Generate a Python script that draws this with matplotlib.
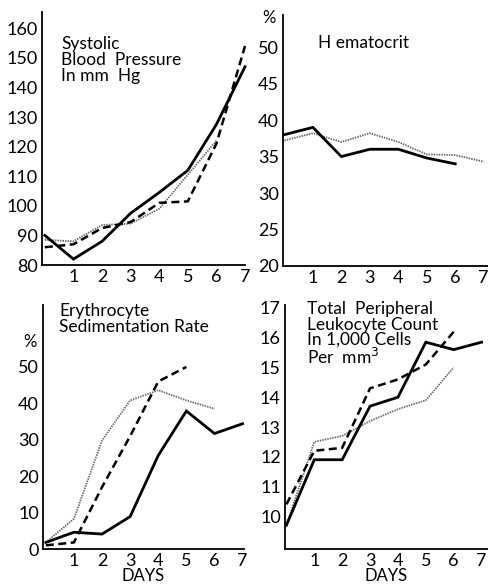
import matplotlib
matplotlib.use('Agg')
import matplotlib.pyplot as plt

plt.rcParams['font.family'] = ['Lato', 'DejaVu Sans']

days = [0, 1, 2, 3, 4, 5, 6, 7]

# systolic blood pressure, mm Hg
bp_solid = [90, 82, 88, 97.5, 104.5, 112, 127.5, 147]
bp_dotted = [88.5, 88, 93.5, 94, 99, 110.5, 122]
bp_dashed = [86, 87, 92.5, 94.5, 101, 101.5, 121, 154]

# hematocrit, %
hct_solid = [38, 39, 35, 36, 36, 34.8, 34]
hct_dotted = [37.2, 38.2, 37, 38.2, 37, 35.3, 35.2, 34.3]

# erythrocyte sedimentation rate, %
esr_solid = [1.8, 4.6, 4.1, 8.9, 25.7, 37.9, 31.7, 34.4]
esr_dotted = [1.8, 8.3, 29.8, 40.8, 43.6, 40.8, 38.5]
esr_dashed = [1, 1.8, 17, 31, 46, 50]

# leukocyte count, 1000 cells per mm3
wbc_solid = [9.7, 11.9, 11.9, 13.7, 14.0, 15.85, 15.6, 15.85]
wbc_dashed = [10.4, 12.2, 12.3, 14.3, 14.6, 15.1, 16.2]
wbc_dotted = [9.7, 12.5, 12.7, 13.2, 13.6, 13.9, 15.0]

W, H = 488, 586


def make_ax(fig, left, right, top, bottom):
    ax = fig.add_axes([left / W, 1 - bottom / H, (right - left) / W, (bottom - top) / H])
    for s in ['top', 'right']:
        ax.spines[s].set_visible(False)
    for s in ['left', 'bottom']:
        ax.spines[s].set_linewidth(1.3)
    ax.tick_params(length=0, labelsize=13, pad=3)
    ax.set_xticks(days[1:])
    return ax


def draw(ax, series):
    for y, style in series:
        x = days[:len(y)]
        if style == 'solid':
            ax.plot(x, y, color='black', lw=2.0, solid_joinstyle='miter', clip_on=False)
        elif style == 'dashed':
            ax.plot(x, y, color='black', lw=1.8, ls=(0, (3.2, 1.8)), clip_on=False)
        else:
            ax.plot(x, y, color='#666666', lw=1.3, ls=(0, (0.8, 0.6)), clip_on=False)


fig = plt.figure(figsize=(W / 100, H / 100), dpi=100)

# systolic blood pressure
ax1 = make_ax(fig, 42, 245, 12, 265)
draw(ax1, [(bp_dotted, 'dotted'), (bp_dashed, 'dashed'), (bp_solid, 'solid')])
ax1.set_xlim(-0.1, 7.0)
ax1.set_ylim(80, 165.5)
ax1.set_yticks(range(80, 161, 10))
ax1.text(0.095, 0.905, 'Systolic\nBlood  Pressure\nIn mm  Hg', transform=ax1.transAxes,
         fontsize=12.5, va='top', linespacing=1.0)

# hematocrit
ax2 = make_ax(fig, 283, 488, 15, 266)
draw(ax2, [(hct_dotted, 'dotted'), (hct_solid, 'solid')])
ax2.set_xlim(-0.05, 7.15)
ax2.set_ylim(20, 54.4)
ax2.set_yticks(range(20, 51, 5))
ax2.text(0.17, 0.89, 'H ematocrit', transform=ax2.transAxes, fontsize=12.5, va='center')
ax2.text(-0.035, 0.99, '%', transform=ax2.transAxes, fontsize=12, ha='right', va='center')

# erythrocyte sedimentation rate
ax3 = make_ax(fig, 43, 244, 305, 549)
draw(ax3, [(esr_dotted, 'dotted'), (esr_dashed, 'dashed'), (esr_solid, 'solid')])
ax3.set_xlim(-0.1, 7.05)
ax3.set_ylim(0, 67)
ax3.set_yticks(range(0, 51, 10))
ax3.text(0.08, 1.01, 'Erythrocyte\nSedimentation Rate', transform=ax3.transAxes,
         fontsize=12.5, va='top', linespacing=1.0)
ax3.text(-0.03, 0.85, '%', transform=ax3.transAxes, fontsize=12, ha='right', va='center')
ax3.set_xlabel('DAYS', fontsize=12, labelpad=-1)

# leukocyte count
ax4 = make_ax(fig, 285, 488, 305, 549)
draw(ax4, [(wbc_dotted, 'dotted'), (wbc_dashed, 'dashed'), (wbc_solid, 'solid')])
ax4.set_xlim(-0.05, 7.23)
ax4.set_ylim(8.9, 17.1)
ax4.set_yticks(range(10, 18))
ax4.text(0.11, 1.015, 'Total  Peripheral\nLeukocyte Count\nIn 1,000 Cells\nPer  mm$^3$',
         transform=ax4.transAxes, fontsize=12.5, va='top', linespacing=0.95)
ax4.set_xlabel('DAYS', fontsize=12, labelpad=-1)

fig.savefig('out.png', dpi=100)
